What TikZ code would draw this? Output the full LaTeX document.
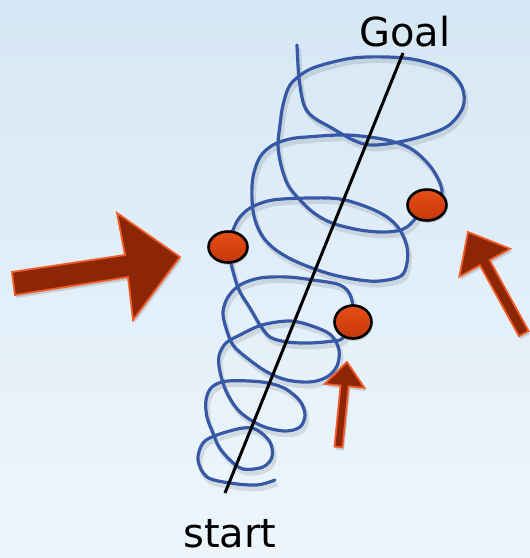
\documentclass[tikz,border=0pt]{standalone}
\usepackage{fontspec}
\setmainfont{DejaVu Sans}
\usetikzlibrary{shapes.geometric,shadows}
\definecolor{bgtop}{RGB}{214,231,245}
\definecolor{bgbot}{RGB}{238,246,252}
\definecolor{coil}{RGB}{55,88,165}
\definecolor{dottop}{RGB}{230,78,22}
\definecolor{dotbot}{RGB}{198,56,10}
\definecolor{arrfill}{RGB}{140,38,4}
\definecolor{arredge}{RGB}{240,92,40}
\begin{document}
\begin{tikzpicture}[x=1pt,y=-1pt,
  reddot/.style={ellipse, draw=black, line width=2.6pt, top color=dottop, bottom color=dotbot,
    inner sep=0pt, drop shadow={opacity=0.3, shadow xshift=1pt, shadow yshift=-2.5pt}},
  arrowshape/.style={fill=arrfill, draw=arredge, line width=1.8pt, line join=miter,
    drop shadow={opacity=0.3, shadow xshift=1.5pt, shadow yshift=-3pt}},
  coilline/.style={draw=coil, line width=3.2pt, line cap=round, line join=round},
  axisline/.style={draw=black, line width=3pt},
  txt/.style={font=\fontsize{40}{40}\selectfont, text=black, inner sep=0pt, anchor=base, text depth=0pt}]
\useasboundingbox (0,0) rectangle (530,558);
\shade[top color=bgtop, bottom color=bgbot] (0,0) rectangle (530,558);

% coil
\draw[coilline, preaction={draw=black, opacity=0.10, line width=4.5pt, transform canvas={xshift=2pt, yshift=-4pt}}]
  plot[smooth, tension=0.55] coordinates {
  (275,480) (257,485) (230,483) (207,477) (198,460) (203,443) (217,435) (243,428) (257,430)
  (270,442) (272,457) (263,467) (243,469) (230,460) (219,447) (213,433) (207,417) (206,400)
  (212,387) (228,381) (262,382) (284,388) (300,401) (305,415) (300,427) (285,431) (262,426)
  (240,412) (227,393) (220,372) (219,356) (226,343) (240,335) (262,325) (290,321) (312,326)
  (331,335) (339,350) (337,366) (327,377) (310,382) (287,380) (267,372) (247,358) (233,345)
  (226,328) (223,312) (228,297) (240,285) (260,278) (287,277) (313,280) (340,285) (351,297)
  (353,322) (343,338) (333,341) (310,343) (287,342) (270,337) (260,325) (250,308) (240,292)
  (234,275) (228,247) (233,230) (240,217) (252,207) (273,200) (310,198) (340,199) (367,207)
  (387,217) (400,230) (407,247) (407,263) (401,276) (380,281) (360,280) (330,274) (297,262)
  (276,250) (263,237) (255,220) (252,200) (253,177) (260,157) (273,145) (290,139) (307,137)
  (347,135) (387,140) (413,150) (433,170) (442,193) (427,205) (407,227) (387,232) (360,230)
  (332,223) (314,213) (300,200) (288,185) (281,165) (278,145) (280,125) (283,105) (290,85)
  (305,72) (322,65) (353,58) (387,57) (417,60) (447,70) (462,87) (463,107) (448,126)
  (420,137) (393,143) (370,145) (353,140) (330,127) (313,117) (304,105) (299,78) (297,45)};

% axis
\coordinate (s) at (225,493);
\coordinate (g) at (403,53);
\draw[axisline] (s) -- (g);

% dots
\node[reddot, minimum width=39pt, minimum height=31pt] (d1) at (228,247) {};
\node[reddot, minimum width=37pt, minimum height=33pt] (d2) at (353,322) {};
\node[reddot, minimum width=39pt, minimum height=31pt] (d3) at (427,205) {};

% arrows
\draw[arrowshape] (12,272) -- (125,255) -- (117,213) -- (180,257) -- (133,320) -- (128,277) -- (15,295) -- cycle;
\draw[arrowshape] (468,232) -- (510.2,248.8) -- (489.6,260.1) -- (528.6,331.0) -- (519.0,336.2) -- (480.0,265.3) -- (459.4,276.6) -- cycle;
\draw[arrowshape] (347,362) -- (364.5,387.9) -- (348.6,386.3) -- (342.5,447.4) -- (334.5,446.6) -- (340.6,385.5) -- (324.7,383.9) -- cycle;

% labels
\node[txt] (goal) at (405,46) {Goal};
\node[txt] (start) at (230,547) {start};
\end{tikzpicture}
\end{document}
